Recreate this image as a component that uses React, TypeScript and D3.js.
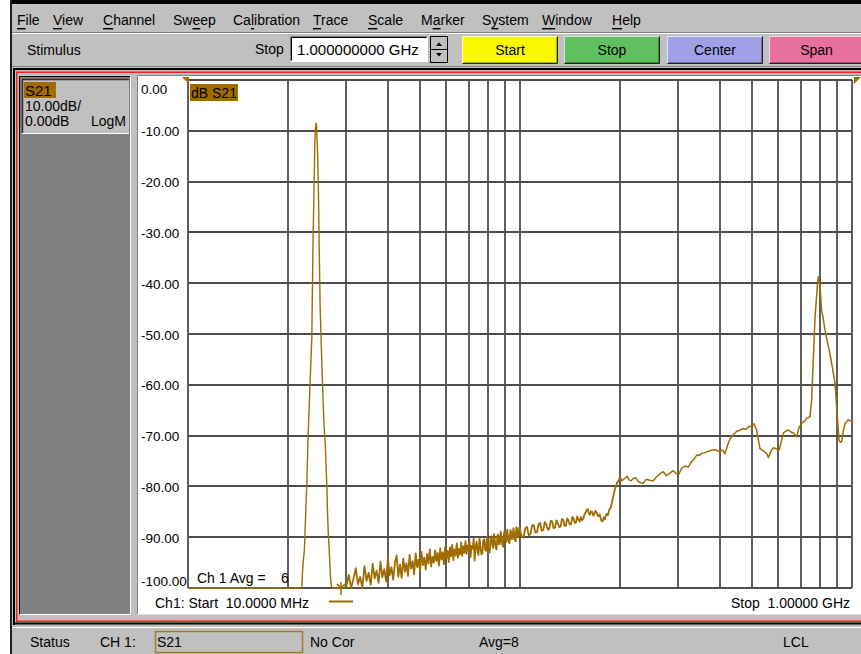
import React from 'react';
import * as d3 from 'd3';

// menu + toolbar
const menuLabels = ['File', 'View', 'Channel', 'Sweep', 'Calibration', 'Trace', 'Scale', 'Marker', 'System', 'Window', 'Help'];
const menuMnemonic = [0, 0, 0, 2, 2, 0, 0, 1, 1, 0, 0];
const menuX = [17, 53, 103, 173, 233, 313, 368, 421, 482, 542, 612];

const buttonLabels = ['Start', 'Stop', 'Center', 'Span'];
const buttonColors = ['#f8f800', '#60c060', '#a0a0e8', '#e8709c'];
const buttonX = [462, 564, 667, 769];
const buttonW = [96, 96, 96, 95];

// axis
const yTicks = [0, -10, -20, -30, -40, -50, -60, -70, -80, -90, -100];
const xGridMHz = [20, 30, 40, 50, 60, 70, 80, 90, 100, 200, 300, 400, 500, 600, 700, 800, 900];

// S21 trace, [MHz, dB]
const peakTrace: [number, number][] = [
  [10, -100], [22.0, -100], [22.1, -97.5], [22.25, -94.5], [22.4, -92.8], [22.5, -89.6],
  [22.65, -84.2], [22.8, -79.3], [22.9, -74.8], [23.0, -70.3], [23.15, -65.0], [23.3, -60.4],
  [23.45, -55.6], [23.6, -50.8], [23.7, -41.0], [23.8, -32.1], [23.95, -22.5], [24.1, -12.4],
  [24.2, -9.6], [24.3, -8.5], [24.4, -9.2], [24.55, -14.0], [24.7, -21], [24.85, -33.5],
  [25.0, -44.3], [25.15, -50.1], [25.3, -55.7], [25.45, -60.5], [25.55, -64.3], [25.7, -68.0],
  [25.9, -71.5], [26.05, -75.9], [26.2, -80], [26.3, -84.6], [26.45, -89], [26.7, -94.1],
  [26.9, -98.4], [27.1, -100], [29.5, -100],
];

const noiseTrace: [number, number][] = [
  [30.0, -99.6], [30.5, -97.4], [31.0, -100], [31.5, -98.2], [32.0, -96.1], [32.5, -99.3],
  [33.0, -97.8], [33.5, -100], [34.0, -95.7], [34.5, -98.6], [35.0, -97.0], [35.5, -99.4],
  [36.0, -95.2], [36.5, -98.1], [37.0, -96.6], [37.5, -99.0], [38.0, -94.8], [38.5, -97.9],
  [39.0, -96.3], [39.5, -98.7], [40.0, -94.1], [40.5, -97.5], [41.0, -95.9], [41.5, -98.4],
  [42.0, -95.0], [42.5, -93.6], [43.0, -97.8], [43.5, -95.4], [44.0, -98.0], [44.5, -94.2],
  [45.0, -96.8], [45.5, -95.1], [46.0, -97.6], [46.5, -93.5], [47.0, -96.2], [47.5, -94.7],
  [48.0, -97.3], [48.5, -93.2], [49.0, -95.9], [49.5, -94.4], [50.0, -96.7], [50.5, -92.9],
  [51.0, -95.5], [51.5, -94.0], [52.0, -96.4], [52.5, -93.3], [53.0, -95.2], [53.5, -92.4],
  [54.0, -95.8], [54.5, -93.9], [55.0, -95.0], [55.5, -92.6], [56.0, -94.7], [56.5, -93.1],
  [57.0, -95.6], [57.5, -92.2], [58.0, -94.4], [58.5, -93.0], [59.0, -95.3], [59.5, -91.9],
  [60.0, -94.1], [60.5, -92.7], [61.0, -94.9], [61.5, -92.0], [62.0, -93.8], [62.5, -91.5],
  [63.0, -94.5], [63.5, -92.4], [64.0, -93.6], [64.5, -91.2], [65.0, -94.0], [65.5, -92.3],
  [66.0, -93.4], [66.5, -91.0], [67.0, -93.7], [67.5, -91.8], [68.0, -93.1], [68.5, -90.8],
  [69.0, -93.3], [69.5, -91.6], [70.0, -92.6], [70.5, -90.9], [71.0, -93.9], [71.5, -91.7],
  [72.0, -92.2], [72.5, -90.3], [73.0, -94.6], [73.5, -91.9], [74.0, -90.9], [74.5, -92.8],
  [75.0, -93.5], [75.5, -90.1], [76.0, -91.8], [76.5, -93.4], [77.0, -93.2], [77.5, -90.6],
  [78.0, -90.4], [78.5, -92.5], [79.0, -92.7], [79.5, -89.9], [80.0, -91.1], [80.5, -92.9],
  [81.0, -93.0], [81.5, -90.2], [82.0, -89.8], [82.5, -91.6], [83.0, -92.1], [83.5, -89.4],
  [84.0, -90.6], [84.5, -92.0], [85.0, -92.4], [85.5, -89.7], [86.0, -89.5], [86.5, -91.4],
  [87.0, -91.3], [87.5, -88.9], [88.0, -90.2], [88.5, -91.5], [89.0, -91.9], [89.5, -89.1],
  [90.0, -88.8], [90.5, -90.6], [91.0, -90.9], [91.5, -88.5], [92.0, -89.6], [92.5, -91.0],
  [93.0, -91.2], [93.5, -88.6], [94.0, -88.9], [94.5, -90.4], [95.0, -90.3], [95.5, -88.2],
  [96.0, -89.1], [96.5, -90.5], [97.0, -90.8], [97.5, -88.0], [98.0, -88.3], [98.5, -89.7],
  [99.0, -89.9], [99.5, -88.1], [100, -88.7],
  [101.25, -89.8], [102.5, -90.1], [103.75, -88.2], [105, -88.0], [106.25, -89.6], [107.5, -89.4],
  [108.75, -87.7], [110, -87.6], [111.25, -89.1], [112.5, -89.0], [113.75, -87.4], [115, -87.2],
  [116.25, -88.7], [117.5, -88.6], [118.75, -87.0], [120, -87.5], [121.25, -88.5], [122.5, -88.4],
  [123.75, -86.8], [125, -86.9], [126.25, -88.2], [127.5, -88.1], [128.75, -86.7], [130, -87.3],
  [131.25, -88.0], [132.5, -87.9], [133.75, -86.4], [135, -86.6], [136.25, -87.8], [137.5, -87.7],
  [138.75, -86.3], [140, -86.8], [141.25, -87.5], [142.5, -87.4], [143.75, -86.0], [145, -86.3],
  [146.25, -87.2], [147.5, -87.1], [148.75, -85.9], [150, -86.5], [151.25, -86.9], [152.5, -86.0],
  [153.75, -86.7], [155, -86.4], [156.25, -85.6], [157.5, -85.2], [158.75, -84.6], [160, -84.5],
  [161.25, -85.3], [162.5, -85.6], [163.75, -84.9], [165, -85.0], [166.25, -85.8], [167.5, -85.4],
  [168.75, -84.8], [170, -85.1], [171.25, -85.7], [172.5, -85.9], [173.75, -85.5], [175, -86.2],
  [176.25, -86.9], [177.5, -86.8], [178.75, -86.1], [180, -86.5], [181.25, -85.8], [182.5, -85.4],
  [183.75, -85.7], [185, -85.1], [186.25, -84.4], [187.5, -84.3], [188.75, -83.5], [190, -82.6],
  [191.25, -81.8], [192.5, -80.9], [193.75, -80.3], [195, -79.8], [196.25, -79.2], [197.5, -79.0],
  [198.75, -78.6],
];

const upperTrace: [number, number][] = [
  [200, -78.1], [203, -78.9], [207, -78.4], [210, -78.0], [213, -78.7], [216, -78.9],
  [219, -78.5], [223, -78.3], [227, -79.0], [231, -79.3], [235, -79.4], [240, -78.6],
  [246, -78.8], [252, -78.9], [258, -78.1], [264, -77.5], [270, -77.1], [276, -77.9],
  [283, -77.4], [289, -76.9], [296, -77.5], [301, -77.6], [307, -76.4], [314, -76.0],
  [321, -76.2], [329, -75.1], [335, -74.6], [341, -73.8], [347, -73.9], [353, -73.5],
  [359, -73.4], [365, -73.2], [376, -72.9], [387, -72.8], [398, -73.1], [409, -72.9],
  [414, -73.6], [424, -71.5], [429, -70.7], [438, -69.9], [449, -69.2], [460, -68.9],
  [471, -68.6], [479, -68.8], [487, -68.3], [497, -68.1], [507, -67.7], [516, -68.9],
  [528, -72.5], [540, -73.0], [553, -73.5], [560, -74.3], [570, -73.1], [579, -72.4],
  [591, -72.6], [604, -72.8], [621, -69.5], [632, -69.1], [643, -68.9], [655, -69.3],
  [666, -69.5], [681, -70.2], [692, -68.5], [705, -67.6], [718, -67.2], [730, -66.6],
  [747, -66.3], [756, -63], [765, -54.5], [774, -46.6], [786, -40.7], [792, -38.7],
  [801, -40.5], [810, -45.3], [819, -47.0], [829, -49.2], [843, -51.5], [858, -53.8],
  [873, -56.6], [889, -59.7], [903, -66.3], [914, -70.9], [922, -71.3], [931, -71.2],
  [942, -69.0], [953, -67.6], [964, -67.2], [975, -66.9], [987, -67.1], [1000, -66.9],
];

const markerMHz = 28.9;

// status bar
const statusLabels = ['Status', 'CH 1:', 'No Cor', 'Avg=8', 'LCL'];
const statusX = [30, 100, 310, 479, 783];

const FONT = "'Liberation Sans', Arial, sans-serif";
const GRAY = '#c0c0c0';
const TRACE = '#a06c00';

function Raised({ x, y, w, h, fill }: { x: number; y: number; w: number; h: number; fill: string }) {
  return (
    <g>
      <rect x={x} y={y} width={w} height={h} fill={fill} />
      <path d={`M${x + 0.5},${y + h - 1}V${y + 0.5}H${x + w - 1}`} stroke="#fff" strokeOpacity={0.7} fill="none" />
      <path d={`M${x + 0.5},${y + h - 0.5}H${x + w - 0.5}V${y + 0.5}`} stroke="#202020" fill="none" />
      <path d={`M${x + 1.5},${y + h - 1.5}H${x + w - 1.5}V${y + 1.5}`} stroke="#000" strokeOpacity={0.3} fill="none" />
    </g>
  );
}

export default function App() {
  const plot = { left: 188, right: 852, top: 80, bottom: 588 };
  const x = d3.scaleLog().domain([10, 1000]).range([plot.left, plot.right]);
  const y = d3.scaleLinear().domain([-100, 0]).range([plot.bottom, plot.top]);

  const line = d3.line<[number, number]>()
    .x(d => x(d[0]))
    .y(d => y(Math.max(-100, Math.min(0, d[1]))));

  const mx = x(markerMHz);

  return (
    <svg width={861} height={654} style={{ position: 'absolute', left: 0, top: 0 }}
      fontFamily={FONT} fontSize={14}>
      <rect width={861} height={654} fill="#fff" />
      <rect x={10} y={0} width={851} height={654} fill={GRAY} />
      <rect x={10} y={0} width={851} height={4} fill="#000" />
      <rect x={10} y={0} width={2} height={654} fill="#202020" />

      {/* menu bar */}
      {menuLabels.map((m, i) => {
        const k = menuMnemonic[i];
        return (
          <text key={m} x={menuX[i]} y={20} dominantBaseline="central" fill="#000">
            {m.slice(0, k)}
            <tspan style={{ textDecoration: 'underline' }}>{m[k]}</tspan>
            {m.slice(k + 1)}
          </text>
        );
      })}
      <line x1={12} x2={861} y1={32.5} y2={32.5} stroke="#808080" />
      <line x1={12} x2={861} y1={33.5} y2={33.5} stroke="#fff" />

      {/* toolbar */}
      <text x={27} y={50} dominantBaseline="central">Stimulus</text>
      <text x={255} y={49} dominantBaseline="central">Stop</text>
      <rect x={290} y={36} width={138} height={26} fill="#fff" />
      <path d="M290.5,61.5V36.5H427.5" stroke="#808080" fill="none" />
      <path d="M291.5,60.5V37.5H426.5" stroke="#000" fill="none" />
      <path d="M290.5,61.5H427.5V36.5" stroke="#fff" fill="none" />
      <text x={297} y={49.5} dominantBaseline="central" fontSize={15}>1.000000000 GHz</text>
      <rect x={430.5} y={36.5} width={17} height={26} fill={GRAY} stroke="#000" />
      <line x1={431} x2={447} y1={49.5} y2={49.5} stroke="#000" />
      <path d="M436,46 L439,42.5 L442,46Z" fill="#000" />
      <path d="M436,53 L439,56.5 L442,53Z" fill="#000" />
      {buttonLabels.map((b, i) => (
        <g key={b}>
          <Raised x={buttonX[i]} y={36} w={buttonW[i]} h={28} fill={buttonColors[i]} />
          <text x={buttonX[i] + buttonW[i] / 2} y={50} textAnchor="middle" dominantBaseline="central">{b}</text>
        </g>
      ))}
      <line x1={12} x2={861} y1={66.5} y2={66.5} stroke="#808080" />

      {/* channel window frame */}
      <rect x={13} y={68} width={848} height={2} fill="#000" />
      <rect x={13} y={68} width={2} height={557} fill="#000" />
      <rect x={16} y={71.5} width={845} height={1.5} fill="#e8281e" />
      <rect x={16} y={71.5} width={1.5} height={551} fill="#e8281e" />
      <rect x={16} y={620.5} width={845} height={1.5} fill="#e8281e" />
      <rect x={13} y={622.5} width={848} height={2} fill="#000" />

      {/* left info panel */}
      <rect x={19} y={76} width={112} height={539} fill="#808080" />
      <path d="M19.5,614V76.5H130" stroke="#000" fill="none" />
      <path d="M20,614.5H130.5V76" stroke="#fff" fill="none" />
      <rect x={22} y={79} width={107} height={54} fill={GRAY} />
      <path d="M22.5,133V79.5H129" stroke="#303030" strokeWidth={1.5} fill="none" />
      <line x1={22} x2={129} y1={133.5} y2={133.5} stroke="#fff" />
      <rect x={24} y={82} width={32} height={16} fill={TRACE} />
      <text x={25} y={90.5} dominantBaseline="central" fontSize={15}>S21</text>
      <text x={25} y={106} dominantBaseline="central" fontSize={14}>10.00dB/</text>
      <text x={25} y={121} dominantBaseline="central" fontSize={14}>0.00dB</text>
      <text x={126} y={121} textAnchor="end" dominantBaseline="central" fontSize={14}>LogM</text>

      {/* plot panel */}
      <rect x={137} y={75} width={724} height={540} fill="#fff" />
      <path d="M137.5,615V75.5H861" stroke="#808080" fill="none" />
      <line x1={137} x2={861} y1={614.5} y2={614.5} stroke="#e0e0e0" />

      {/* grid */}
      <g stroke="#4e4e4e" strokeWidth={1.8}>
        {yTicks.map(t => (
          <line key={t} x1={plot.left} x2={plot.right} y1={Math.round(y(t))} y2={Math.round(y(t))} />
        ))}
        {xGridMHz.map(f => (
          <line key={f} x1={Math.round(x(f))} x2={Math.round(x(f))} y1={plot.top} y2={plot.bottom} />
        ))}
        <line x1={plot.left} x2={plot.left} y1={plot.top} y2={plot.bottom} />
        <line x1={plot.right} x2={plot.right} y1={plot.top} y2={plot.bottom} />
      </g>

      {/* y labels */}
      {yTicks.map(t => (
        <text key={t} x={141} y={t === 0 ? y(t) + 9 : t === -100 ? y(t) - 7 : y(t) + 1}
          dominantBaseline="central" fontSize={13.5}>{t.toFixed(2)}</text>
      ))}

      {/* reference markers */}
      <path d="M182,77 H189 V84 Z" fill={TRACE} />
      <path d="M861,77 H854 V84 Z" fill={TRACE} />

      {/* trace title */}
      <rect x={190} y={84} width={48} height={17} fill={TRACE} />
      <text x={191} y={93} dominantBaseline="central" fontSize={14}>dB S21</text>

      {/* trace */}
      <g fill="none" stroke={TRACE} strokeLinejoin="round">
        <path d={line(peakTrace) ?? ''} strokeWidth={1.4} />
        <path d={line([peakTrace[peakTrace.length - 1], ...noiseTrace, upperTrace[0]]) ?? ''} strokeWidth={1.8} />
        <path d={line(upperTrace) ?? ''} strokeWidth={1.5} />
      </g>

      {/* marker */}
      <g stroke={TRACE} strokeWidth={1.5} fill="none">
        <path d={`M${mx},${plot.bottom - 6}V${plot.bottom + 7}`} />
        <path d={`M${mx - 4},${plot.bottom - 4}L${mx},${plot.bottom}L${mx + 4},${plot.bottom - 4}`} />
        <line x1={mx - 12} x2={mx + 12} y1={601.5} y2={601.5} strokeWidth={2} />
      </g>

      {/* annotations */}
      <text x={197} y={578} dominantBaseline="central">Ch 1 Avg =</text>
      <text x={281} y={578} dominantBaseline="central">6</text>
      <text x={155} y={603} dominantBaseline="central" style={{ whiteSpace: 'pre' }}>Ch1: Start  10.0000 MHz</text>
      <text x={850} y={603} textAnchor="end" dominantBaseline="central" style={{ whiteSpace: 'pre' }}>Stop  1.00000 GHz</text>

      {/* status bar */}
      <line x1={12} x2={861} y1={627.5} y2={627.5} stroke="#fff" />
      {statusLabels.map((s, i) => (
        <text key={s} x={statusX[i]} y={642} dominantBaseline="central">{s}</text>
      ))}
      <rect x={155.5} y={631.5} width={147} height={21} fill="none" stroke="#a67c2c" strokeWidth={1.5} />
      <text x={157} y={642} dominantBaseline="central">S21</text>
    </svg>
  );
}
